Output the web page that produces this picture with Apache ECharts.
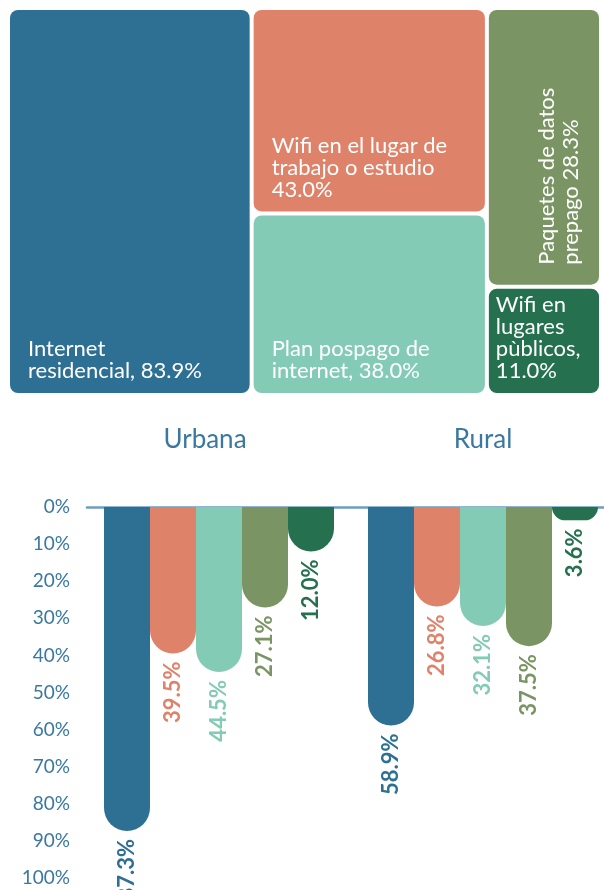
<!DOCTYPE html>
<html>
<head>
<meta charset="utf-8">
<script src="https://cdn.jsdelivr.net/npm/echarts@6/dist/echarts.min.js"></script>
<style>
  html, body { margin: 0; padding: 0; background: #ffffff; }
  #chart { width: 604px; height: 890px; }
</style>
</head>
<body>
<div id="chart"></div>
<script>
// access types, shared by the treemap and the bars
var accessNames = ['Internet residencial', 'Wifi en el lugar de trabajo o estudio', 'Plan pospago de internet', 'Paquetes de datos prepago', 'Wifi en lugares pùblicos'];
var accessTotal = [83.9, 43.0, 38.0, 28.3, 11.0];
// label text as it wraps in the tiles, {v} gets the value
var accessLabels = ['Internet\nresidencial, {v}', 'Wifi en el lugar de\ntrabajo o estudio\n{v}', 'Plan pospago de\ninternet, {v}', 'Paquetes de datos\nprepago {v}', 'Wifi en\nlugares\npùblicos,\n{v}'];
// which tiles go in which column of the treemap
var treeColumns = [[0], [1, 2], [3, 4]];

var areaNames = ['Urbana', 'Rural'];
var urbanValues = [87.3, 39.5, 44.5, 27.1, 12.0];
var ruralValues = [58.9, 26.8, 32.1, 37.5, 3.6];

var colors = ['#2e6f94', '#de826a', '#84cbb6', '#7a9563', '#24704f'];
var axisColor = '#3a78a0';
var fontFamily = 'Lato, "Noto Sans", sans-serif';

var myChart = echarts.init(document.getElementById('chart'), null, {renderer: 'canvas'});

function pct (v) {
  return v.toFixed(1) + '%';
}

// treemap tiles in value space: columns by summed share, rows by share in the column
var treeSum = accessTotal.reduce(function (s, v) { return s + v; }, 0);
var tiles = [];
var cx = 0;
treeColumns.forEach(function (col) {
  var colSum = col.reduce(function (s, i) { return s + accessTotal[i]; }, 0);
  var cy = 0;
  col.forEach(function (i) {
    var h = accessTotal[i] / colSum;
    tiles.push([cx, cx + colSum, cy, cy + h, i]);
    cy += h;
  });
  cx += colSum;
});

function renderTile (params, api) {
  var p0 = api.coord([api.value(0), api.value(2)]);
  var p1 = api.coord([api.value(1), api.value(3)]);
  var idx = api.value(4);
  var x = p0[0] + 2;
  var y = p0[1] + 2;
  var w = p1[0] - p0[0] - 4;
  var h = p1[1] - p0[1] - 4;
  var text = accessLabels[idx].replace('{v}', pct(accessTotal[idx]));
  var label;

  if (w < 150 && h > 200) {
    // tall narrow tile: text runs upwards
    label = {
      type: 'text',
      x: x + w * 0.64,
      y: y + h - 20,
      rotation: Math.PI / 2,
      style: {
        text: text,
        fill: '#ffffff',
        font: '22px ' + fontFamily,
        lineHeight: 24,
        align: 'left',
        verticalAlign: 'middle'
      }
    };
  } else {
    var pad = w < 150 ? 7 : 18;
    label = {
      type: 'text',
      x: x + pad,
      y: y + h - 11,
      style: {
        text: text,
        fill: '#ffffff',
        font: '22px ' + fontFamily,
        lineHeight: 22,
        align: 'left',
        verticalAlign: 'bottom'
      }
    };
  }

  return {
    type: 'group',
    children: [{
      type: 'rect',
      shape: {x: x, y: y, width: w, height: h, r: 8},
      style: {fill: colors[idx]}
    }, label]
  };
}

var barSeries = accessNames.map(function (name, i) {
  return {
    name: name,
    type: 'bar',
    xAxisIndex: 1,
    yAxisIndex: 1,
    barWidth: 46,
    barGap: '0%',
    data: [urbanValues[i], ruralValues[i]],
    itemStyle: {
      color: colors[i],
      borderRadius: [0, 0, 23, 23]
    },
    label: {
      show: true,
      position: 'bottom',
      distance: 8,
      rotate: 90,
      align: 'right',
      verticalAlign: 'middle',
      color: colors[i],
      fontFamily: fontFamily,
      fontWeight: 'bold',
      fontSize: 22,
      formatter: function (p) {
        return pct(p.value);
      }
    }
  };
});

var option = {
  animation: false,
  backgroundColor: '#ffffff',
  title: areaNames.map(function (name, i) {
    return {
      text: name,
      left: i === 0 ? 200 : 478,
      top: 422,
      textAlign: 'center',
      textStyle: {
        color: axisColor,
        fontFamily: fontFamily,
        fontWeight: 'normal',
        fontSize: 26
      }
    };
  }),
  grid: [
    {left: 8, top: 8, width: 593, height: 387, outerBoundsMode: 'none'},
    {left: 87, width: 528, top: 507, height: 371, outerBoundsMode: 'none', containLabel: false}
  ],
  xAxis: [{
    gridIndex: 0,
    type: 'value',
    min: 0,
    max: treeSum,
    show: false
  }, {
    gridIndex: 1,
    type: 'category',
    data: areaNames,
    axisLine: {show: true, lineStyle: {color: '#6f9dbf', width: 2.5}},
    axisTick: {show: false},
    axisLabel: {show: false},
    splitLine: {show: false}
  }],
  yAxis: [{
    gridIndex: 0,
    type: 'value',
    min: 0,
    max: 1,
    inverse: true,
    show: false
  }, {
    gridIndex: 1,
    type: 'value',
    min: 0,
    max: 100,
    interval: 10,
    inverse: true,
    axisLine: {show: false},
    axisTick: {show: false},
    splitLine: {show: false},
    axisLabel: {
      margin: 17,
      color: axisColor,
      fontFamily: fontFamily,
      fontSize: 19,
      formatter: '{value}%'
    }
  }],
  series: [{
    type: 'custom',
    xAxisIndex: 0,
    yAxisIndex: 0,
    renderItem: renderTile,
    data: tiles,
    silent: true
  }].concat(barSeries)
};

myChart.setOption(option);
</script>
</body>
</html>
